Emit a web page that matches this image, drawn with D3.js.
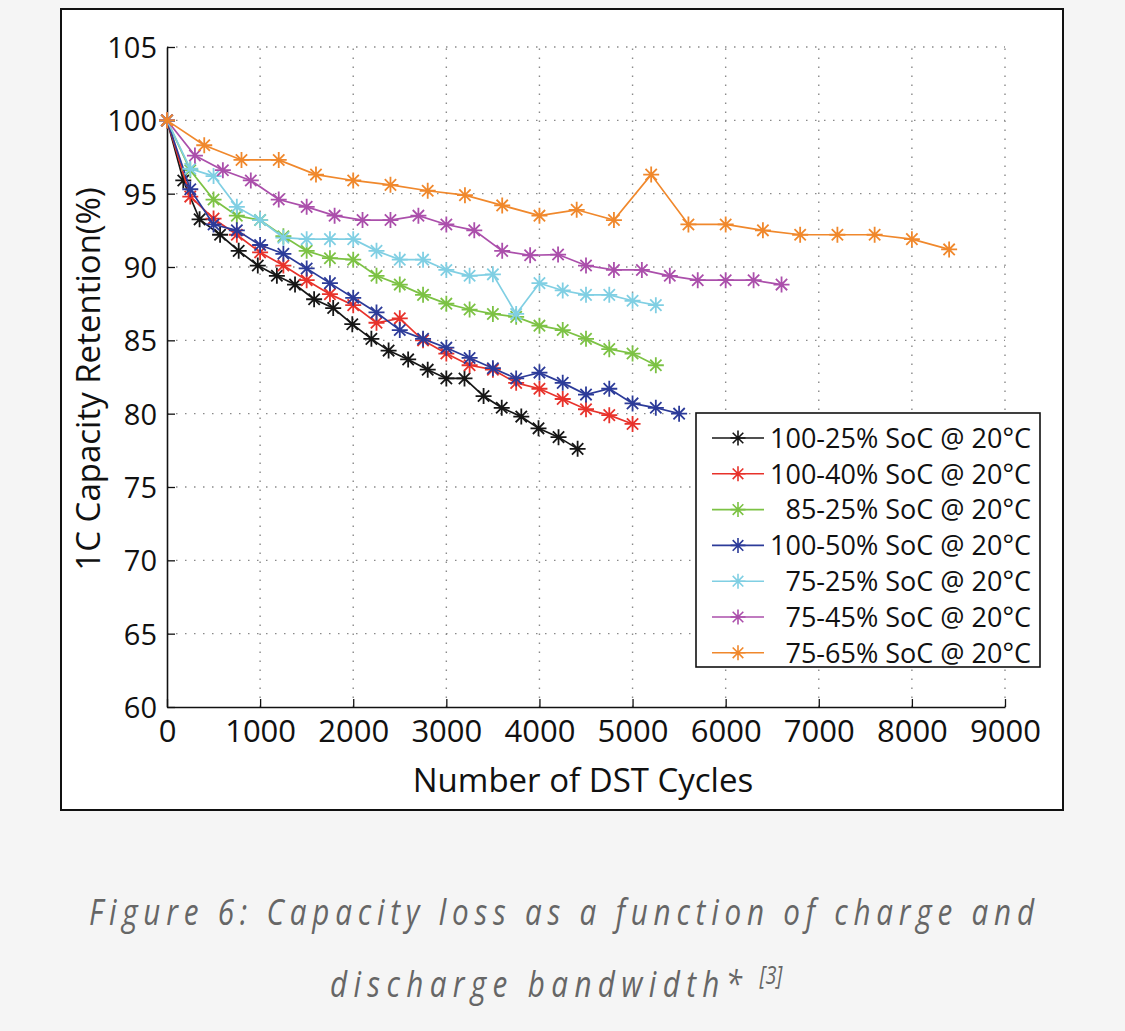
<!DOCTYPE html>
<html>
<head>
<meta charset="utf-8">
<script src="https://cdn.jsdelivr.net/npm/d3@7"></script>
<style>
  body { margin: 0; background: #f5f5f5; }
  svg { display: block; }
</style>
</head>
<body>
<script>
// series labels (legend order)
const seriesNames = [
  "100-25% SoC @ 20°C",
  "100-40% SoC @ 20°C",
  "85-25% SoC @ 20°C",
  "100-50% SoC @ 20°C",
  "75-25% SoC @ 20°C",
  "75-45% SoC @ 20°C",
  "75-65% SoC @ 20°C"
];

// cycles (x) and retention (y)
const cyc100_25 = [0, 175, 350, 570, 770, 975, 1180, 1375, 1580, 1785, 1990, 2195, 2380, 2590, 2800, 3000, 3195, 3400, 3595, 3805, 3990, 4205, 4410];
const ret100_25 = [100, 95.9, 93.25, 92.2, 91.1, 90.1, 89.4, 88.8, 87.8, 87.2, 86.1, 85.1, 84.3, 83.7, 83.0, 82.4, 82.4, 81.2, 80.4, 79.8, 79.0, 78.4, 77.6];

const cyc100_40 = [0, 250, 500, 750, 1000, 1250, 1500, 1750, 2000, 2250, 2500, 2750, 3000, 3250, 3500, 3750, 4000, 4250, 4500, 4750, 5000];
const ret100_40 = [100, 94.8, 93.3, 92.2, 91.0, 90.1, 89.1, 88.15, 87.4, 86.2, 86.5, 85.0, 84.1, 83.3, 83.0, 82.1, 81.7, 81.0, 80.3, 79.9, 79.3];

const cyc85_25 = [0, 250, 500, 750, 1000, 1250, 1500, 1750, 2000, 2250, 2500, 2750, 3000, 3250, 3500, 3750, 4000, 4250, 4500, 4750, 5000, 5250];
const ret85_25 = [100, 96.6, 94.6, 93.5, 93.2, 92.1, 91.1, 90.6, 90.5, 89.4, 88.8, 88.1, 87.5, 87.1, 86.8, 86.6, 86.0, 85.7, 85.1, 84.4, 84.1, 83.3];

const cyc100_50 = [0, 250, 500, 750, 1000, 1250, 1500, 1750, 2000, 2250, 2500, 2750, 3000, 3250, 3500, 3750, 4000, 4250, 4500, 4750, 5000, 5250, 5500];
const ret100_50 = [100, 95.3, 92.9, 92.5, 91.5, 90.9, 89.9, 88.9, 87.9, 86.9, 85.7, 85.1, 84.5, 83.8, 83.1, 82.4, 82.8, 82.1, 81.3, 81.7, 80.7, 80.4, 80.0];

const cyc75_25 = [0, 250, 500, 750, 1000, 1250, 1500, 1750, 2000, 2250, 2500, 2750, 3000, 3250, 3500, 3750, 4000, 4250, 4500, 4750, 5000, 5250];
const ret75_25 = [100, 96.7, 96.2, 94.1, 93.2, 92.0, 91.9, 91.9, 91.9, 91.1, 90.5, 90.5, 89.8, 89.4, 89.5, 86.8, 88.9, 88.4, 88.1, 88.1, 87.7, 87.4];

const cyc75_45 = [0, 300, 600, 900, 1200, 1500, 1800, 2100, 2400, 2700, 3000, 3300, 3600, 3900, 4200, 4500, 4800, 5100, 5400, 5700, 6000, 6300, 6600];
const ret75_45 = [100, 97.6, 96.6, 95.9, 94.6, 94.1, 93.5, 93.2, 93.2, 93.5, 92.9, 92.5, 91.1, 90.8, 90.85, 90.1, 89.8, 89.8, 89.4, 89.1, 89.1, 89.1, 88.8];

const cyc75_65 = [0, 400, 800, 1200, 1600, 2000, 2400, 2800, 3200, 3600, 4000, 4400, 4800, 5200, 5600, 6000, 6400, 6800, 7200, 7600, 8000, 8400];
const ret75_65 = [100, 98.3, 97.3, 97.3, 96.3, 95.9, 95.6, 95.2, 94.9, 94.2, 93.5, 93.9, 93.2, 96.3, 92.9, 92.9, 92.5, 92.2, 92.2, 92.2, 91.9, 91.2];

const xTicks = [0, 1000, 2000, 3000, 4000, 5000, 6000, 7000, 8000, 9000];
const yTicks = [60, 65, 70, 75, 80, 85, 90, 95, 100, 105];

const colors = ["#161616", "#e8322b", "#7cc244", "#2c3b99", "#80cfe3", "#ab4fab", "#f0882c"];

const allCycles = [cyc100_25, cyc100_40, cyc85_25, cyc100_50, cyc75_25, cyc75_45, cyc75_65];
const allRet = [ret100_25, ret100_40, ret85_25, ret100_50, ret75_25, ret75_45, ret75_65];

const series = seriesNames.map((name, i) => ({
  name: name,
  color: colors[i],
  points: allCycles[i].map((c, j) => ({ x: c, y: allRet[i][j] }))
}));

const W = 1125, H = 1031;
const font = "'Open Sans', 'DejaVu Sans', sans-serif";

const svg = d3.select("body").append("svg").attr("width", W).attr("height", H);

svg.append("rect").attr("width", W).attr("height", H).attr("fill", "#f5f5f5");

// white figure panel
svg.append("rect")
  .attr("x", 61).attr("y", 9)
  .attr("width", 1002).attr("height", 801)
  .attr("fill", "#fff")
  .attr("stroke", "#111").attr("stroke-width", 2);

const x = d3.scaleLinear().domain([0, 9000]).range([167, 1005]);
const y = d3.scaleLinear().domain([60, 105]).range([707, 47]);

// dotted grid
const grid = svg.append("g").attr("stroke", "#8a8a8a").attr("stroke-width", 1.4)
  .attr("stroke-dasharray", "1.5,7.5");
grid.selectAll("line.v").data(xTicks.slice(1)).enter().append("line")
  .attr("x1", d => x(d)).attr("x2", d => x(d))
  .attr("y1", y(60)).attr("y2", y(105));
grid.selectAll("line.h").data(yTicks.slice(1)).enter().append("line")
  .attr("y1", d => y(d)).attr("y2", d => y(d))
  .attr("x1", x(0)).attr("x2", x(9000));

// axes
const xAxis = d3.axisBottom(x).tickValues(xTicks).tickFormat(d3.format("d"))
  .tickSizeInner(-8).tickSizeOuter(0).tickPadding(13);
const yAxis = d3.axisLeft(y).tickValues(yTicks).tickSizeInner(-8).tickSizeOuter(0).tickPadding(10);

const gx = svg.append("g").attr("transform", `translate(0,${y(60)})`).call(xAxis);
const gy = svg.append("g").attr("transform", `translate(${x(0)},0)`).call(yAxis);

[gx, gy].forEach(g => {
  g.select(".domain").attr("stroke", "#111").attr("stroke-width", 1.6);
  g.selectAll(".tick line").attr("stroke", "#111").attr("stroke-width", 1.3);
  g.selectAll(".tick text")
    .attr("fill", "#111")
    .style("font-family", font)
    .style("font-size", "29px");
});
gx.selectAll(".tick text").style("font-size", "31px");
gy.selectAll(".tick text").attr("dy", "0.36em");

// axis titles
svg.append("text")
  .attr("x", x(4500) - 3).attr("y", 792)
  .attr("text-anchor", "middle")
  .style("font-family", font).style("font-size", "33px")
  .attr("fill", "#111")
  .text("Number of DST Cycles");

svg.append("text")
  .attr("transform", `translate(100,${y(82.5) + 2}) rotate(-90)`)
  .attr("text-anchor", "middle")
  .style("font-family", font).style("font-size", "33px")
  .attr("fill", "#111")
  .text("1C Capacity Retention(%)");

// asterisk marker
function star(r) {
  const d = r * Math.SQRT1_2;
  return `M${-r},0L${r},0M0,${-r}L0,${r}M${-d},${-d}L${d},${d}M${-d},${d}L${d},${-d}`;
}

const line = d3.line().x(d => x(d.x)).y(d => y(d.y));

const gs = svg.selectAll("g.series").data(series).enter().append("g").attr("class", "series");

gs.append("path")
  .attr("d", d => line(d.points))
  .attr("fill", "none")
  .attr("stroke", d => d.color)
  .attr("stroke-width", 1.7);

gs.each(function (s) {
  d3.select(this).selectAll("path.m").data(s.points).enter().append("path")
    .attr("class", "m")
    .attr("transform", d => `translate(${x(d.x)},${y(d.y)})`)
    .attr("d", star(8))
    .attr("fill", "none")
    .attr("stroke", s.color)
    .attr("stroke-width", 1.8);
});

// legend
const lg = svg.append("g");
lg.append("rect")
  .attr("x", 696).attr("y", 413)
  .attr("width", 344).attr("height", 254)
  .attr("fill", "#fff").attr("stroke", "#111").attr("stroke-width", 1.6);

const items = lg.selectAll("g.item").data(series).enter().append("g")
  .attr("transform", (d, i) => `translate(0,${438 + i * 35.8})`);
items.append("line")
  .attr("x1", 712).attr("x2", 764)
  .attr("stroke", d => d.color).attr("stroke-width", 1.6);
items.append("path")
  .attr("transform", "translate(738,0)")
  .attr("d", star(7.5))
  .attr("fill", "none")
  .attr("stroke", d => d.color).attr("stroke-width", 1.6);
items.append("text")
  .attr("x", 1031).attr("dy", "0.36em")
  .attr("text-anchor", "end")
  .style("font-family", font).style("font-size", "27px")
  .attr("fill", "#111")
  .text(d => d.name);

// caption (condensed italic, letter-spaced)
const sx = 0.8;
const cap = svg.append("g")
  .style("font-family", font).style("font-style", "italic")
  .style("font-size", "37px").attr("fill", "#666");
cap.append("text")
  .attr("transform", `translate(89,925) scale(${sx},1)`)
  .attr("textLength", 945 / sx).attr("lengthAdjust", "spacing")
  .text("Figure 6: Capacity loss as a function of charge and");
const l2 = cap.append("text")
  .attr("transform", `translate(330,997) scale(${sx},1)`);
l2.append("tspan")
  .attr("textLength", 412 / sx).attr("lengthAdjust", "spacing")
  .text("discharge bandwidth*");
l2.append("tspan").attr("dx", 14).attr("dy", -13).style("font-size", "25px")
  .text("[3]");
</script>
</body>
</html>
